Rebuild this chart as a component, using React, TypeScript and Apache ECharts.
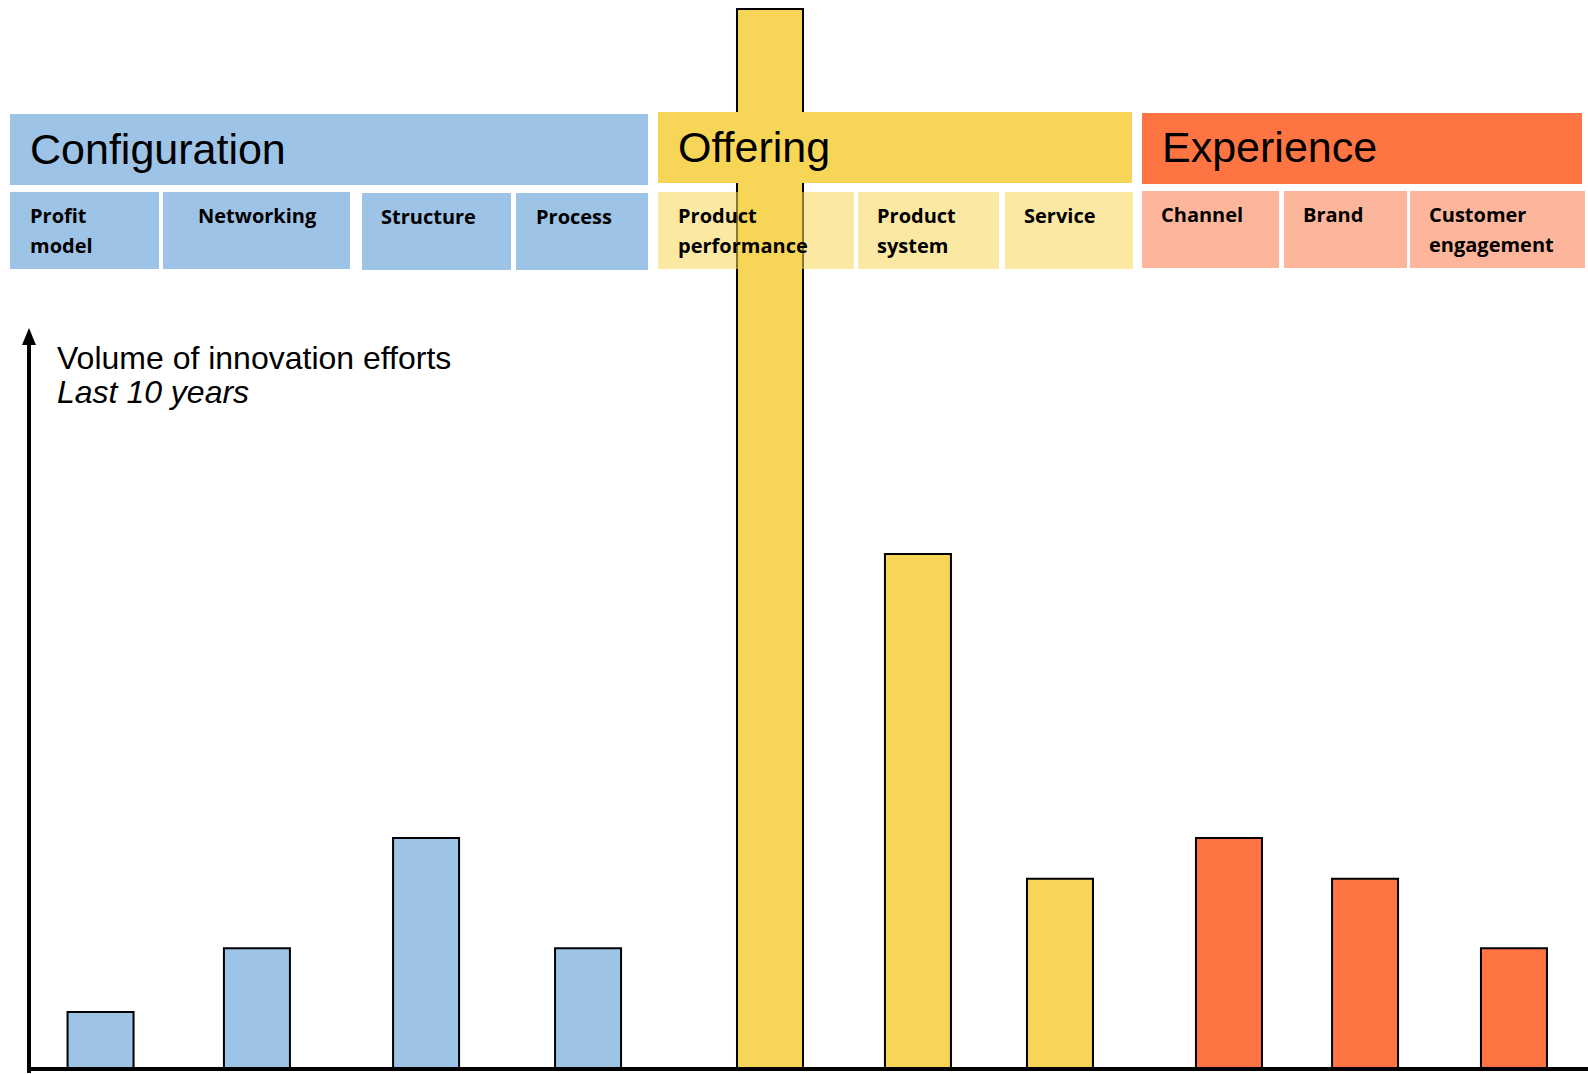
import React, { useEffect, useRef } from "react";
import * as echarts from "echarts";

// ---- data ----
const categories = [
  "Profit\nmodel",
  "Networking",
  "Structure",
  "Process",
  "Product\nperformance",
  "Product\nsystem",
  "Service",
  "Channel",
  "Brand",
  "Customer\nengagement",
];
const groups = ["Configuration", "Offering", "Experience"];
const categoryGroup = [0, 0, 0, 0, 1, 1, 1, 2, 2, 2];
const effortValues = [1, 2.1, 4, 2.1, 18.3, 8.9, 3.3, 4, 3.3, 2.1];
// position of each category along the horizontal axis (0..100)
const categorySlots = [4.59, 14.62, 25.47, 35.86, 47.53, 57.02, 66.13, 76.97, 85.7, 95.25];
const axisTitle = "Volume of innovation efforts";
const axisSubtitle = "Last 10 years";

const groupColors = ["#9DC3E6", "#F7D557", "#FE7443"];
const subBoxColors = ["#9DC3E6", "rgba(247,213,87,0.55)", "#FDB69B"];

export default function App() {
  const ref = useRef<HTMLDivElement>(null);

  useEffect(() => {
    if (!ref.current) return;
    const chart = echarts.init(ref.current, null, { renderer: "svg" });

    // layout of the header boxes
    const groupBoxes = [
      { x: 10, y: 114, w: 638, h: 71, tx: 30, ty: 149 },
      { x: 658, y: 112, w: 474, h: 71, tx: 678, ty: 147 },
      { x: 1142, y: 113, w: 440, h: 71, tx: 1162, ty: 147 },
    ];
    const subBoxes = [
      { x: 10, y: 192, w: 149, h: 77, tx: 30 },
      { x: 163, y: 192, w: 187, h: 77, tx: 198 },
      { x: 362, y: 193, w: 149, h: 77, tx: 381 },
      { x: 516, y: 193, w: 132, h: 77, tx: 536 },
      { x: 658, y: 192, w: 196, h: 77, tx: 678 },
      { x: 858, y: 192, w: 141, h: 77, tx: 877 },
      { x: 1005, y: 192, w: 128, h: 77, tx: 1024 },
      { x: 1142, y: 191, w: 137, h: 77, tx: 1161 },
      { x: 1284, y: 191, w: 123, h: 77, tx: 1303 },
      { x: 1410, y: 191, w: 175, h: 77, tx: 1429 },
    ];

    const graphics: any[] = [];
    groups.forEach((g, i) => {
      const b = groupBoxes[i];
      graphics.push({
        type: "rect",
        z: 10,
        shape: { x: b.x, y: b.y, width: b.w, height: b.h },
        style: { fill: groupColors[i] },
      });
      graphics.push({
        type: "text",
        z: 11,
        style: {
          text: g,
          x: b.tx,
          y: b.ty,
          font: '43px "Liberation Sans", Arial, sans-serif',
          fill: "#000",
          verticalAlign: "middle",
          align: "left",
        },
      });
    });
    categories.forEach((c, i) => {
      const b = subBoxes[i];
      graphics.push({
        type: "rect",
        z: 10,
        shape: { x: b.x, y: b.y, width: b.w, height: b.h },
        style: { fill: subBoxColors[categoryGroup[i]] },
      });
      graphics.push({
        type: "text",
        z: 11,
        style: {
          text: c,
          x: b.tx,
          y: b.y + 8,
          font: 'bold 20px "Open Sans", sans-serif',
          lineHeight: 30,
          fill: "#000",
          verticalAlign: "top",
          align: "left",
        },
      });
    });
    // vertical axis arrow
    graphics.push({
      type: "line",
      z: 12,
      shape: { x1: 29, y1: 1073, x2: 29, y2: 340 },
      style: { stroke: "#000", lineWidth: 4 },
    });
    graphics.push({
      type: "polygon",
      z: 12,
      shape: { points: [[29, 328], [22, 345], [36, 345]] },
      style: { fill: "#000" },
    });
    graphics.push({
      type: "text",
      z: 12,
      style: {
        text: axisTitle,
        x: 57,
        y: 358,
        font: '32px "Liberation Sans", Arial, sans-serif',
        fill: "#000",
        verticalAlign: "middle",
      },
    });
    graphics.push({
      type: "text",
      z: 12,
      style: {
        text: axisSubtitle,
        x: 57,
        y: 392,
        font: 'italic 32px "Liberation Sans", Arial, sans-serif',
        fill: "#000",
        verticalAlign: "middle",
      },
    });

    chart.setOption({
      animation: false,
      backgroundColor: "#fff",
      grid: { left: 29, right: 0, top: 8, bottom: 5, containLabel: false },
      xAxis: {
        type: "value",
        min: 0,
        max: 100,
        offset: 2,
        axisLine: { show: true, lineStyle: { color: "#000", width: 4 } },
        axisTick: { show: false },
        axisLabel: { show: false },
        splitLine: { show: false },
      },
      yAxis: {
        type: "value",
        min: 0,
        max: 18.3,
        axisLine: { show: false },
        axisTick: { show: false },
        axisLabel: { show: false },
        splitLine: { show: false },
      },
      series: [
        {
          type: "bar",
          barWidth: 68,
          z: 2,
          data: effortValues.map((v, i) => ({
            value: [categorySlots[i], v],
            name: categories[i],
            itemStyle: {
              color: groupColors[categoryGroup[i]],
              borderColor: "#000",
              borderWidth: 2,
            },
          })),
        },
      ],
      graphic: graphics,
    });

    return () => chart.dispose();
  }, []);

  return (
    <div
      ref={ref}
      style={{ position: "absolute", left: 0, top: 0, width: 1588, height: 1074 }}
    />
  );
}
